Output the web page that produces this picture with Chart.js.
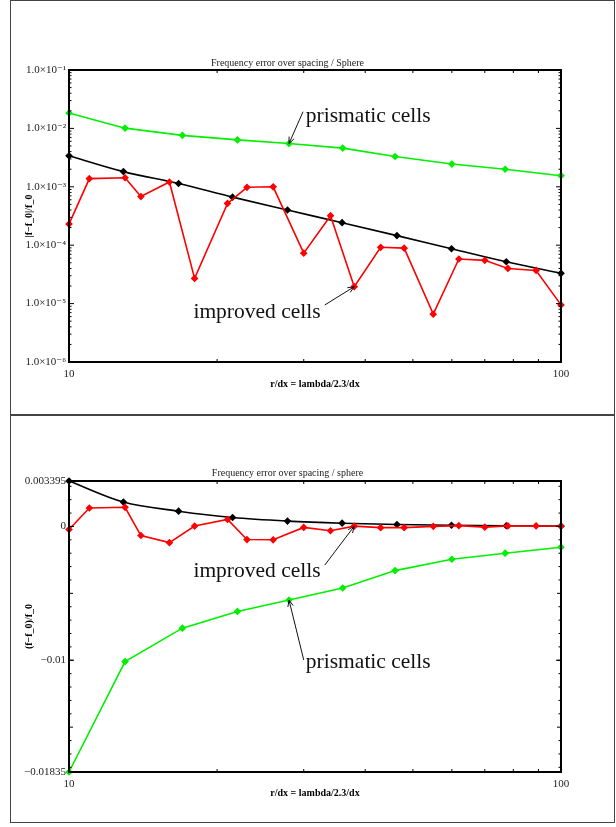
<!DOCTYPE html>
<html>
<head>
<meta charset="utf-8">
<script src="https://cdn.jsdelivr.net/npm/chart.js"></script>
<style>
  body { margin: 0; background: #fff; width: 616px; height: 827px; position: relative; overflow: hidden; }
  .frame { position: absolute; left: 10px; width: 605px; border: 1.5px solid #444; box-sizing: border-box; }
  #f1 { top: 0px; height: 416px; }
  #f2 { top: 414px; height: 409px; }
  canvas { position: absolute; left: 14px; }
  #chart1 { top: 0px; }
  #chart2 { top: 414px; }
</style>
</head>
<body>
<div class="frame" id="f1"></div>
<div class="frame" id="f2"></div>
<canvas id="chart1" width="602" height="414"></canvas>
<canvas id="chart2" width="602" height="413"></canvas>
<script>
// r/dx values of each series
const xPrism = [10, 13, 17, 22, 28, 36, 46, 60, 77, 100];
const xRef   = [10, 12.9, 16.7, 21.5, 27.8, 35.9, 46.4, 59.9, 77.4, 100];
const xImpr  = [10, 11, 13, 14, 16, 18, 21, 23, 26, 30, 34, 38, 43, 48, 55, 62, 70, 78, 89, 100];

// top plot: |f-f_0|/f_0
const prismAbs = [1.835e-2, 1.01e-2, 7.6e-3, 6.35e-3, 5.5e-3, 4.6e-3, 3.3e-3, 2.45e-3, 2.0e-3, 1.55e-3];
const refAbs   = [3.395e-3, 1.82e-3, 1.14e-3, 6.65e-4, 4.0e-4, 2.43e-4, 1.46e-4, 8.7e-5, 5.2e-5, 3.3e-5];
const imprAbs  = [2.3e-4, 1.38e-3, 1.43e-3, 6.8e-4, 1.21e-3, 2.7e-5, 5.2e-4, 9.8e-4, 1.0e-3, 7.3e-5,
                  3.2e-4, 1.95e-5, 9.2e-5, 8.9e-5, 6.6e-6, 5.8e-5, 5.5e-5, 4.0e-5, 3.7e-5, 9.5e-6];

// bottom plot: (f-f_0)/f_0
const prismSigned = [-1.835e-2, -1.01e-2, -7.6e-3, -6.35e-3, -5.5e-3, -4.6e-3, -3.3e-3, -2.45e-3, -2.0e-3, -1.55e-3];
const refSigned   = [3.395e-3, 1.82e-3, 1.14e-3, 6.65e-4, 4.0e-4, 2.43e-4, 1.46e-4, 8.7e-5, 5.2e-5, 3.3e-5];
const imprSigned  = [-2.3e-4, 1.38e-3, 1.43e-3, -6.8e-4, -1.21e-3, 2.7e-5, 5.2e-4, -9.8e-4, -1.0e-3, -7.3e-5,
                     -3.2e-4, 1.95e-5, -9.2e-5, -8.9e-5, 6.6e-6, 5.8e-5, -5.5e-5, 4.0e-5, 3.7e-5, 9.5e-6];

// ticks
const xTicks = [10, 100];
const xTickLabels = ['10', '100'];
const xMinor = [20, 30, 40, 50, 60, 70, 80, 90];

const yTicksTop = [1e-6, 1e-5, 1e-4, 1e-3, 1e-2, 1e-1];
const yLabelsTop = ['1.0×10⁻⁶', '1.0×10⁻⁵', '1.0×10⁻⁴', '1.0×10⁻³', '1.0×10⁻²', '1.0×10⁻¹'];
const yTicksBottom = [-0.01835, -0.01, 0, 0.003395];
const yLabelsBottom = ['−0.01835', '−0.01', '0', '0.003395'];

// minor ticks
const yMinorTop = [];
[1e-6, 1e-5, 1e-4, 1e-3, 1e-2].forEach(d => { for (let m = 2; m <= 9; m++) yMinorTop.push(m * d); });
const yMinorBottom = [];
for (let k = -18; k <= 3; k++) yMinorBottom.push(k / 1000);

// labels with arrows, in data coordinates
const notesTop = [
  {text: 'prismatic cells', x: 30.3, y: 1.30e-2, from: [29.9, 1.93e-2], to: [28, 5.5e-3]},
  {text: 'improved cells', x: 17.9, y: 5.66e-6, from: [33.1, 9.46e-6], to: [38, 1.95e-5]}
];
const notesBottom = [
  {text: 'improved cells', x: 17.9, y: -3.79e-3, from: [33.1, -2.89e-3], to: [38, 1.95e-5]},
  {text: 'prismatic cells', x: 30.3, y: -10.57e-3, from: [30.0, -9.98e-3], to: [28, -5.5e-3]}
];

Chart.defaults.font.family = '"Liberation Serif", "DejaVu Serif", serif';
Chart.defaults.color = '#222';

function pts(xs, ys) {
  return xs.map((x, i) => ({x: x, y: ys[i]}));
}

function serie(xs, ys, color, smooth) {
  return {
    data: pts(xs, ys),
    borderColor: color,
    backgroundColor: color,
    borderWidth: 1.6,
    pointStyle: 'rectRot',
    pointRadius: 2.7,
    pointHoverRadius: 2.7,
    cubicInterpolationMode: smooth ? 'monotone' : 'default',
    clip: false
  };
}

// inward ticks on all four sides + box
const boxTicks = {
  id: 'boxTicks',
  afterDatasetsDraw(chart, args, opts) {
    const {ctx, chartArea: a, scales: {x, y}} = chart;
    ctx.save();
    ctx.strokeStyle = '#000';
    ctx.lineWidth = 1;
    const line = (x1, y1, x2, y2) => { ctx.beginPath(); ctx.moveTo(x1, y1); ctx.lineTo(x2, y2); ctx.stroke(); };
    const tx = (v, len) => { const p = x.getPixelForValue(v); line(p, a.bottom, p, a.bottom - len); line(p, a.top, p, a.top + len); };
    const ty = (v, len) => { const p = y.getPixelForValue(v); line(a.left, p, a.left + len, p); line(a.right, p, a.right - len, p); };
    opts.xMinor.forEach(v => tx(v, 3));
    opts.xMajor.forEach(v => tx(v, 5));
    opts.yMinor.forEach(v => ty(v, opts.yLong && opts.yLong(v) ? 4 : 2.5));
    opts.yMajor.forEach(v => ty(v, 5));
    ctx.lineWidth = 2;
    ctx.strokeRect(a.left, a.top, a.width, a.height);
    ctx.restore();
  }
};

const notes = {
  id: 'notes',
  afterDraw(chart, args, opts) {
    const {ctx, scales: {x, y}} = chart;
    ctx.save();
    ctx.font = '21.5px "Liberation Serif", serif';
    ctx.fillStyle = '#111';
    ctx.strokeStyle = '#111';
    ctx.lineWidth = 1;
    ctx.textBaseline = 'alphabetic';
    opts.items.forEach(n => {
      ctx.fillText(n.text, x.getPixelForValue(n.x), y.getPixelForValue(n.y));
      const x1 = x.getPixelForValue(n.from[0]), y1 = y.getPixelForValue(n.from[1]);
      const x2 = x.getPixelForValue(n.to[0]), y2 = y.getPixelForValue(n.to[1]);
      ctx.beginPath(); ctx.moveTo(x1, y1); ctx.lineTo(x2, y2); ctx.stroke();
      const ang = Math.atan2(y2 - y1, x2 - x1);
      ctx.beginPath();
      ctx.moveTo(x2 - 7 * Math.cos(ang - 0.4), y2 - 7 * Math.sin(ang - 0.4));
      ctx.lineTo(x2, y2);
      ctx.lineTo(x2 - 7 * Math.cos(ang + 0.4), y2 - 7 * Math.sin(ang + 0.4));
      ctx.stroke();
    });
    ctx.restore();
  }
};

function makeChart(id, o) {
  return new Chart(document.getElementById(id), {
    type: 'line',
    data: {
      datasets: [
        serie(xImpr, o.impr, '#ff0000', false),
        serie(xRef, o.ref, '#000000', true),
        serie(xPrism, o.prism, '#00f000', false)
      ]
    },
    options: {
      responsive: false,
      animation: false,
      events: [],
      layout: {padding: {left: 0, right: 55, top: 0, bottom: 0}},
      plugins: {
        legend: {display: false},
        tooltip: {enabled: false},
        title: {
          display: true,
          text: o.title,
          font: {size: 10, weight: 'normal'},
          color: '#222',
          padding: {top: o.titleTop, bottom: o.titleBottom}
        },
        boxTicks: {xMajor: xTicks, xMinor: xMinor, yMajor: o.yTicks, yMinor: o.yMinor, yLong: o.yLong},
        notes: {items: o.notes}
      },
      scales: {
        x: {
          type: 'logarithmic',
          min: 10,
          max: 100,
          afterBuildTicks: s => { s.ticks = xTicks.map(v => ({value: v})); },
          afterFit: s => { s.height = o.xHeight; s.paddingLeft = 0; s.paddingRight = 0; },
          grid: {display: false, drawTicks: false},
          border: {display: false},
          ticks: {
            autoSkip: false, maxRotation: 0, padding: 6,
            font: {size: 11}, color: '#222',
            callback: (v, i) => xTickLabels[i]
          },
          title: {
            display: true,
            text: 'r/dx = lambda/2.3/dx',
            font: {size: 10, weight: 'bold'},
            color: '#000',
            padding: {top: 0, bottom: o.xTitlePad}
          }
        },
        y: {
          type: o.yType,
          min: o.yMin,
          max: o.yMax,
          afterBuildTicks: s => { s.ticks = o.yTicks.map(v => ({value: v})); },
          afterFit: s => { s.width = 55; s.paddingTop = 0; s.paddingBottom = 0; },
          grid: {display: false, drawTicks: false},
          border: {display: false},
          ticks: {
            autoSkip: false, padding: 3,
            font: {size: 11}, color: '#222',
            callback: (v, i) => o.yLabels[i]
          },
          title: {
            display: true,
            text: o.yTitle,
            font: {size: 10, weight: 'bold'},
            color: '#000',
            padding: {top: 9, bottom: 0}
          }
        }
      }
    },
    plugins: [boxTicks, notes]
  });
}

makeChart('chart1', {
  title: 'Frequency error over spacing / Sphere',
  titleTop: 57, titleBottom: 1,
  xHeight: 52, xTitlePad: 24,
  yType: 'logarithmic', yMin: 1e-6, yMax: 1e-1,
  yTicks: yTicksTop, yLabels: yLabelsTop, yMinor: yMinorTop, yLong: null,
  yTitle: '|f−f_0|/f_0',
  prism: prismAbs, ref: refAbs, impr: imprAbs,
  notes: notesTop
});

makeChart('chart2', {
  title: 'Frequency error over spacing / sphere',
  titleTop: 53, titleBottom: 2,
  xHeight: 55, xTitlePad: 28,
  yType: 'linear', yMin: -0.01835, yMax: 0.003395,
  yTicks: yTicksBottom, yLabels: yLabelsBottom, yMinor: yMinorBottom,
  yLong: v => Math.abs(Math.round(v * 1000)) % 5 === 0,
  yTitle: '(f−f_0)/f_0',
  prism: prismSigned, ref: refSigned, impr: imprSigned,
  notes: notesBottom
});
</script>
</body>
</html>
